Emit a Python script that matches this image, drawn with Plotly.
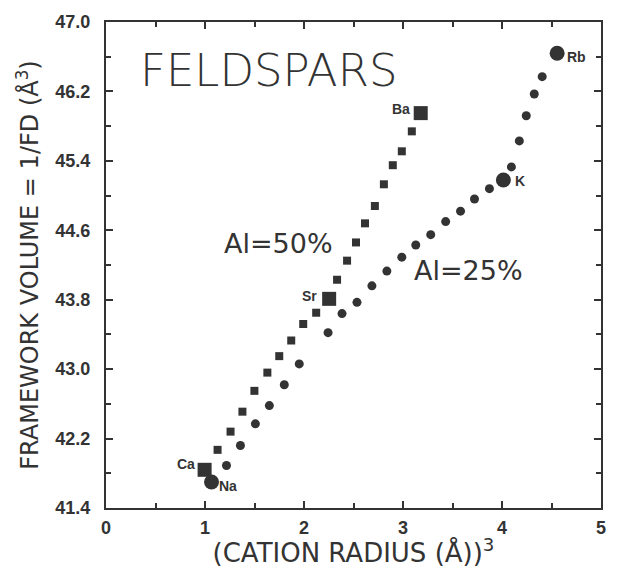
import plotly.graph_objects as go

# Al=50% series (squares)
sq_x = [0.996, 1.127, 1.258, 1.378, 1.499, 1.630, 1.750, 1.871, 1.992, 2.123, 2.254,
        2.334, 2.435, 2.525, 2.616, 2.716, 2.807, 2.897, 2.988, 3.089, 3.179]
sq_y = [41.84, 42.07, 42.28, 42.51, 42.75, 42.96, 43.15, 43.33, 43.52, 43.65, 43.81,
        44.03, 44.25, 44.46, 44.68, 44.88, 45.13, 45.35, 45.51, 45.74, 45.95]

# Al=25% series (circles)
ci_x = [1.066, 1.217, 1.358, 1.509, 1.650, 1.801, 1.952, 2.243, 2.384, 2.535, 2.686,
        2.837, 2.988, 3.129, 3.280, 3.431, 3.581, 3.722, 3.873, 4.014, 4.095, 4.175,
        4.245, 4.326, 4.406, 4.557]
ci_y = [41.70, 41.89, 42.12, 42.37, 42.58, 42.82, 43.06, 43.42, 43.64, 43.77, 43.96,
        44.13, 44.29, 44.43, 44.55, 44.70, 44.82, 44.96, 45.08, 45.18, 45.33, 45.63,
        45.92, 46.17, 46.37, 46.64]

# end-member cations
sq_end_names = ["Ca", "Sr", "Ba"]
sq_end_x = [0.996, 2.254, 3.179]
sq_end_y = [41.84, 43.81, 45.95]
ci_end_names = ["Na", "K", "Rb"]
ci_end_x = [1.066, 4.014, 4.557]
ci_end_y = [41.70, 45.18, 46.64]

x_ticks = [0, 1, 2, 3, 4, 5]
y_ticks = [41.4, 42.2, 43.0, 43.8, 44.6, 45.4, 46.2, 47.0]

INK = "#333333"

fig = go.Figure()
fig.add_trace(go.Scatter(x=sq_x, y=sq_y, mode="markers",
                         marker=dict(symbol="square", size=8, color=INK), showlegend=False))
fig.add_trace(go.Scatter(x=ci_x, y=ci_y, mode="markers",
                         marker=dict(symbol="circle", size=9, color=INK), showlegend=False))
fig.add_trace(go.Scatter(x=sq_end_x, y=sq_end_y, mode="markers",
                         marker=dict(symbol="square", size=14, color=INK), showlegend=False))
fig.add_trace(go.Scatter(x=ci_end_x, y=ci_end_y, mode="markers",
                         marker=dict(symbol="circle", size=15, color=INK), showlegend=False))

lab_font = dict(family="Liberation Sans", size=14, color=INK, weight="bold")
label_pos = {
    "Ba": (3.089, 46.00, "right"),
    "Sr": (2.153, 43.84, "right"),
    "Ca": (0.915, 41.91, "right"),
    "Na": (1.117, 41.65, "left"),
    "K": (4.115, 45.17, "left"),
    "Rb": (4.638, 46.60, "left"),
}
for name in sq_end_names + ci_end_names:
    lx, ly, anc = label_pos[name]
    fig.add_annotation(x=lx, y=ly, text=name, showarrow=False, xanchor=anc,
                       yanchor="middle", font=lab_font)

fig.add_annotation(x=0.32, y=46.44, text="FELDSPARS", showarrow=False, xanchor="left",
                   yanchor="middle", font=dict(family="DejaVu Sans", size=45, color=INK,
                                               weight=300))
fig.add_annotation(x=1.17, y=44.45, text="Al=50%", showarrow=False, xanchor="left",
                   yanchor="middle", font=dict(family="DejaVu Sans", size=27, color=INK))
fig.add_annotation(x=3.09, y=44.14, text="Al=25%", showarrow=False, xanchor="left",
                   yanchor="middle", font=dict(family="DejaVu Sans", size=27, color=INK))

axis_common = dict(
    showgrid=False, zeroline=False, showline=True, linecolor=INK, linewidth=2,
    mirror="allticks", ticks="inside", ticklen=7, tickwidth=1.5, tickcolor=INK,
    tickfont=dict(family="Liberation Sans", size=18, color=INK, weight="bold"),
)

fig.update_xaxes(range=[0, 5], tickmode="array", tickvals=x_ticks,
                 ticktext=[str(v) for v in x_ticks], ticklabelstandoff=2,
                 minor=dict(dtick=0.5, ticks="inside", ticklen=5, tickcolor=INK, tickwidth=1.5),
                 title=dict(text="(CATION RADIUS (Å))<sup>3</sup>", standoff=0,
                            font=dict(family="DejaVu Sans", size=26, color=INK)),
                 **axis_common)
fig.update_yaxes(range=[41.4, 47.0], tickmode="array", tickvals=y_ticks,
                 ticktext=[f"{v:.1f}" for v in y_ticks], ticklabelstandoff=10,
                 minor=dict(tick0=41.4, dtick=0.4, ticks="inside", ticklen=5, tickcolor=INK,
                            tickwidth=1.5),
                 title=dict(text="FRAMEWORK VOLUME = 1/FD (Å<sup>3</sup>)", standoff=10,
                            font=dict(family="DejaVu Sans", size=24, color=INK)),
                 **axis_common)

fig.update_layout(width=618, height=568, margin=dict(l=106, r=15, t=15, b=57),
                  plot_bgcolor="white", paper_bgcolor="white")

fig.write_html("out.html")
